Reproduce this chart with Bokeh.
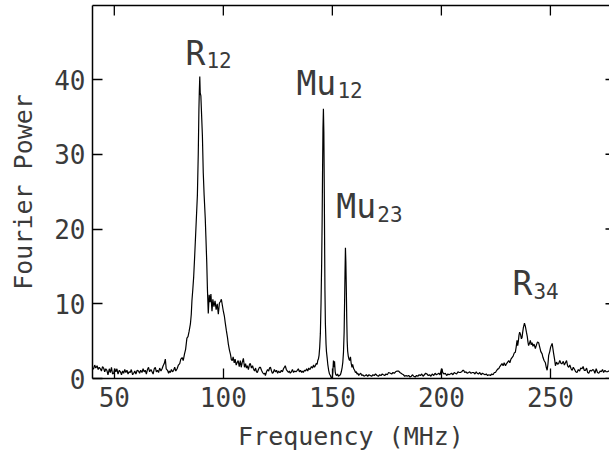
import math
from bokeh.plotting import figure
from bokeh.models import LinearAxis, FixedTicker, Range1d, ColumnDataSource
from bokeh.embed import file_html
from bokeh.resources import INLINE
from bokeh.core.properties import value

# ---- data ----
freq = [40.0, 40.5, 41.0, 41.5, 42.1, 42.6, 43.1, 43.6, 44.1, 44.6, 45.1, 45.6, 46.1, 46.6, 47.1, 47.7, 48.2, 48.7, 49.2, 49.7,
        50.2, 50.7, 51.2, 51.7, 52.3, 52.8, 53.3, 53.8, 54.3, 54.8, 55.3, 55.8, 56.3, 56.8, 57.3, 57.8, 58.4, 58.9, 59.4, 59.9,
        60.5, 61.1, 61.6, 62.1, 62.7, 63.2, 63.7, 64.2, 64.7, 65.2, 65.7, 66.2, 66.8, 67.3, 67.8, 68.3, 68.8, 69.3, 69.8, 70.3,
        70.8, 71.4, 71.9, 72.4, 72.9, 73.4, 73.8, 74.4, 74.9, 75.3, 75.7, 76.2, 76.7, 77.2, 77.7, 78.2, 78.8, 79.4, 80.0, 80.5,
        81.1, 81.6, 82.2, 82.7, 83.3, 83.8, 84.3, 84.9, 85.3, 85.6, 86.0, 86.4, 86.8, 87.2, 87.6, 88.1, 88.5, 88.8, 89.0, 89.2,
        89.4, 89.7, 90.0, 90.4, 90.8, 91.2, 91.7, 92.0, 92.4, 92.7, 93.1, 93.5, 93.9, 94.3, 94.8, 95.2, 95.7, 96.2, 96.7, 97.2,
        97.7, 98.2, 98.7, 99.1, 99.6, 100.0, 100.5, 100.9, 101.4, 101.9, 102.3, 102.8, 103.3, 103.7, 104.1, 104.5, 105.0, 105.4,
        105.9, 106.3, 106.8, 107.3, 107.8, 108.2, 108.7, 109.2, 109.7, 110.2, 110.6, 111.0, 111.5, 112.0, 112.4, 112.9, 113.4,
        113.8, 114.3, 114.8, 115.2, 115.6, 116.1, 116.6, 117.0, 117.5, 118.0, 118.5, 119.0, 119.3, 119.8, 120.3, 120.8, 121.2,
        121.6, 122.1, 122.5, 122.9, 123.4, 123.9, 124.4, 124.9, 125.4, 125.8, 126.1, 126.6, 127.1, 127.6, 128.0, 128.4, 128.9,
        129.4, 129.9, 130.3, 130.7, 131.2, 131.7, 132.2, 132.7, 133.3, 133.9, 134.4, 134.9, 135.4, 135.9, 136.3, 136.7, 137.2,
        137.7, 138.2, 138.7, 139.2, 139.6, 139.9, 140.4, 140.9, 141.4, 141.8, 142.2, 142.6, 143.0, 143.3, 143.6, 143.9, 144.2,
        144.5, 144.8, 145.1, 145.3, 145.5, 145.7, 145.9, 146.1, 146.3, 146.5, 146.6, 146.8, 147.1, 147.3, 147.6, 147.9, 148.3,
        148.7, 149.1, 149.5, 149.9, 150.2, 150.5, 150.8, 151.0, 151.3, 151.6, 152.0, 152.4, 152.8, 153.2, 153.7, 154.1, 154.5,
        154.8, 155.1, 155.4, 155.6, 155.8, 156.0, 156.2, 156.4, 156.6, 156.8, 157.0, 157.3, 157.6, 157.9, 158.3, 158.6, 159.0,
        159.3, 159.8, 160.2, 160.6, 161.0, 161.3, 161.7, 162.1, 162.6, 163.0, 163.5, 164.0, 164.5, 165.1, 165.6, 166.2, 166.8,
        167.4, 168.0, 168.6, 169.2, 169.8, 170.5, 171.1, 171.7, 172.3, 172.9, 173.4, 174.0, 174.6, 175.2, 175.8, 176.6, 177.2,
        177.8, 178.4, 179.0, 179.7, 180.4, 181.0, 181.5, 182.0, 182.6, 183.2, 183.8, 184.3, 185.0, 185.6, 186.2, 186.8, 187.3,
        188.0, 188.6, 189.2, 189.8, 190.4, 191.0, 191.6, 192.2, 192.8, 193.4, 194.0, 194.6, 195.2, 195.8, 196.5, 197.1, 197.7,
        198.3, 198.8, 199.4, 200.0, 200.3, 200.6, 201.2, 201.8, 202.4, 203.0, 203.5, 204.1, 204.7, 205.3, 205.9, 206.4, 207.0,
        207.6, 208.2, 208.7, 209.3, 209.8, 210.2, 210.7, 211.3, 211.9, 212.5, 213.0, 213.6, 214.2, 214.8, 215.4, 216.0, 216.4,
        217.0, 217.6, 218.2, 218.8, 219.4, 220.0, 220.6, 221.2, 221.8, 222.5, 223.1, 223.7, 224.3, 224.8, 225.4, 225.9, 226.3,
        226.8, 227.3, 227.8, 228.3, 228.8, 229.4, 229.9, 230.4, 230.9, 231.4, 231.9, 232.4, 232.9, 233.4, 233.9, 234.3, 234.7,
        235.0, 235.3, 235.6, 235.9, 236.3, 236.7, 237.0, 237.3, 237.6, 238.1, 238.5, 239.0, 239.4, 239.7, 240.0, 240.4, 240.8,
        241.2, 241.6, 242.0, 242.5, 243.1, 243.6, 244.1, 244.6, 245.1, 245.6, 246.2, 246.6, 247.1, 247.7, 248.1, 248.5, 248.9,
        249.2, 249.7, 250.1, 250.8, 251.2, 251.5, 251.9, 252.3, 252.8, 253.3, 253.8, 254.3, 254.9, 255.4, 255.9, 256.4, 256.9,
        257.4, 257.9, 258.4, 258.9, 259.5, 260.0, 260.5, 261.1, 261.6, 262.2, 262.8, 263.4, 263.9, 264.5, 265.0, 265.5, 266.1,
        266.6, 267.1, 267.6, 268.2, 268.8, 269.4, 269.9, 270.4, 271.0, 271.6, 272.2, 272.8, 273.3, 273.9, 274.4, 275.0, 275.6,
        276.2, 276.7, 277.0]
power = [1.3, 1.3, 1.8, 1.4, 1.7, 1.2, 1.5, 1.3, 1.0, 1.6, 1.4, 0.9, 1.3, 1.1, 0.5, 1.3, 0.8, 1.5, 0.6, 0.7,
         1.3, 0.9, 1.3, 0.6, 1.1, 0.9, 0.5, 1.0, 0.7, 1.2, 0.8, 1.1, 0.6, 0.9, 0.8, 1.2, 0.5, 0.7, 1.0, 0.6,
         1.1, 1.0, 0.7, 1.1, 0.8, 1.3, 0.9, 1.1, 0.6, 1.2, 1.5, 0.9, 1.2, 0.9, 0.6, 1.3, 1.5, 0.9, 1.1, 0.8,
         1.4, 1.0, 1.3, 1.7, 2.0, 2.6, 1.3, 1.1, 0.7, 1.0, 0.8, 1.2, 0.9, 1.1, 1.5, 1.0, 1.3, 1.8, 2.0, 2.6,
         2.8, 2.4, 3.3, 3.9, 5.4, 5.6, 6.3, 7.3, 8.6, 10.4, 11.9, 13.6, 16.0, 18.6, 21.2, 24.5, 30.0, 36.0, 38.5, 40.4,
         38.2, 37.8, 35.5, 32.5, 27.5, 24.5, 21.5, 19.0, 15.5, 12.0, 8.7, 11.2, 10.2, 11.3, 9.0, 10.6, 9.6, 10.4, 9.2, 10.0,
         8.6, 10.1, 10.3, 10.6, 9.7, 9.0, 8.3, 7.4, 6.4, 5.5, 4.6, 3.8, 3.2, 2.5, 2.4, 2.9, 2.1, 2.6,
         1.8, 2.1, 2.4, 1.6, 2.4, 1.5, 2.2, 2.7, 1.5, 2.0, 1.4, 1.7, 1.2, 1.9, 2.0, 1.4, 1.7,
         1.3, 1.0, 1.4, 0.9, 0.8, 1.2, 1.5, 1.5, 1.1, 0.8, 0.6, 0.7, 0.4, 0.9, 1.2, 1.0, 1.4,
         1.5, 1.0, 0.7, 0.8, 1.2, 0.9, 1.1, 0.7, 1.0, 0.8, 0.8, 1.1, 0.9, 1.3, 1.5, 1.7, 1.2,
         1.0, 0.8, 1.0, 0.7, 0.9, 1.2, 0.8, 1.0, 0.9, 1.1, 1.3, 0.9, 1.1, 0.8, 1.0, 0.8, 1.1,
         1.0, 1.3, 1.0, 1.4, 1.2, 1.3, 1.6, 1.4, 1.8, 1.5, 1.7, 2.0, 1.9, 2.4, 2.6, 3.1, 4.2,
         6.0, 10.0, 15.5, 20.7, 27.5, 33.5, 36.1, 33.0, 25.2, 16.0, 11.8, 7.4, 4.6, 3.6, 2.8, 1.9, 1.1,
         0.6, 0.4, 0.1, 0.0, 0.8, 2.4, 1.5, 2.3, 0.9, 0.5, 0.4, 0.6, 0.3, 0.4, 0.5, 0.9, 1.5,
         2.2, 3.5, 6.2, 10.0, 14.0, 17.5, 15.5, 12.0, 8.0, 5.0, 3.7, 3.0, 2.6, 2.4, 2.9, 2.1, 1.5,
         1.9, 1.3, 1.1, 0.8, 0.9, 0.6, 0.7, 0.4, 0.6, 0.7, 0.4, 0.5, 0.3, 0.4, 0.5, 0.3, 0.5,
         0.4, 0.3, 0.5, 0.4, 0.6, 0.4, 0.3, 0.5, 0.4, 0.6, 0.5, 0.4, 0.6, 0.5, 0.8, 0.7, 0.6,
         0.8, 0.7, 0.9, 1.0, 1.0, 0.8, 0.7, 0.6, 0.5, 0.3, 0.4, 0.3, 0.4, 0.2, 0.3, 0.5, 0.3,
         0.2, 0.4, 0.3, 0.5, 0.4, 0.6, 0.3, 0.5, 0.7, 0.6, 0.4, 0.5, 0.3, 0.6, 0.4, 0.7, 0.5,
         0.6, 0.7, 0.5, 1.2, 1.3, 0.8, 0.6, 0.7, 0.4, 0.6, 0.5, 0.6, 0.7, 0.5, 0.8, 0.7, 0.6,
         0.9, 0.8, 0.8, 0.9, 1.1, 1.1, 0.8, 0.9, 0.7, 0.8, 0.9, 0.7, 0.8, 0.8, 0.6, 0.9, 0.7,
         0.6, 0.8, 0.5, 0.7, 0.6, 0.5, 0.6, 0.4, 0.5, 0.4, 0.6, 0.5, 0.8, 0.8, 1.1, 1.3, 1.3,
         1.6, 1.8, 2.0, 1.7, 2.1, 1.7, 2.0, 2.2, 2.4, 2.1, 2.6, 2.8, 3.0, 3.4, 3.5, 4.2, 5.1,
         4.4, 5.0, 5.8, 6.2, 5.9, 5.3, 5.5, 6.2, 6.8, 7.4, 7.0, 6.2, 5.6, 4.9, 4.4, 4.7, 5.1,
         4.5, 4.8, 4.3, 4.6, 4.0, 4.5, 4.9, 4.8, 4.2, 3.6, 3.3, 2.8, 2.4, 2.1, 1.5, 1.1, 2.0,
         3.1, 3.6, 4.2, 4.7, 3.9, 3.3, 2.6, 1.7, 2.2, 1.9, 2.0, 2.4, 2.0, 2.0, 2.3, 1.8, 2.1,
         2.4, 1.7, 1.5, 1.8, 1.3, 1.1, 1.5, 1.2, 0.9, 0.8, 1.2, 1.0, 1.4, 1.3, 1.6, 1.1, 1.1,
         1.4, 0.8, 0.7, 1.1, 1.0, 1.2, 1.1, 0.7, 1.3, 0.8, 0.7, 1.0, 0.9, 1.2, 0.8, 1.1, 0.9,
         0.9, 1.0, 1.0]

x_ticks = [50, 100, 150, 200, 250]
y_ticks = [0, 10, 20, 30, 40]

peak_names = ["R", "Mu", "Mu", "R"]
peak_subs = ["12", "12", "23", "34"]
label_freq = [82.6, 133.5, 151.8, 232.6]
label_power = [43.5, 39.5, 23.0, 12.7]
sub_shift = [21, 41, 41, 21]

X_RANGE = (40, 277.1)
Y_RANGE = (0, 49.9)

FONT = "DejaVu Sans Mono"
TXT = "#3a3a3a"

p = figure(width=609, height=460, output_backend="svg", toolbar_location=None,
           x_range=Range1d(*X_RANGE), y_range=Range1d(*Y_RANGE),
           x_axis_location=None, y_axis_location=None,
           min_border_left=92, min_border_right=0, min_border_top=5, min_border_bottom=82)
p.grid.visible = False
p.outline_line_color = None
p.background_fill_color = "white"
p.border_fill_color = "white"


def make_axis(ticks, label=None):
    ax = LinearAxis(ticker=FixedTicker(ticks=ticks))
    ax.major_tick_in = 10
    ax.major_tick_out = 0
    ax.minor_tick_in = 0
    ax.minor_tick_out = 0
    ax.major_tick_line_color = "black"
    ax.major_tick_line_width = 1.3
    ax.axis_line_color = "black"
    ax.axis_line_width = 1.5
    ax.major_label_text_font = FONT
    ax.major_label_text_font_size = "26px"
    ax.major_label_text_color = TXT
    if label:
        ax.axis_label = label
        ax.axis_label_text_font = FONT
        ax.axis_label_text_font_size = "25px"
        ax.axis_label_text_font_style = "normal"
        ax.axis_label_text_color = TXT
    return ax


bottom = make_axis(x_ticks, label="Frequency (MHz)")
bottom.major_label_standoff = 8
bottom.axis_label_standoff = 12
left = make_axis(y_ticks, label="Fourier Power")
left.major_label_standoff = 7
left.axis_label_standoff = 13
p.add_layout(bottom, "below")
p.add_layout(left, "left")

# top frame line (an axis without ticks or labels)
top = LinearAxis(ticker=FixedTicker(ticks=[]))
top.axis_line_color = "black"
top.axis_line_width = 1.5
top.major_tick_in = 0
top.major_tick_out = 0
top.minor_tick_in = 0
top.minor_tick_out = 0
top.major_label_standoff = 0
p.add_layout(top, "above")

# inward tick marks on top and right edges
p.ray(x=x_ticks, y=[Y_RANGE[1]] * len(x_ticks), length=10, length_units="screen",
      angle=-math.pi / 2, line_color="black", line_width=1.3)
p.ray(x=[X_RANGE[1]] * len(y_ticks), y=y_ticks, length=4, length_units="screen",
      angle=math.pi, line_color="black", line_width=1.3)

p.line(freq, power, line_color="black", line_width=1.2)

src = ColumnDataSource(dict(x=label_freq, y=label_power, name=peak_names, sub=peak_subs, dx=sub_shift))
p.text(x="x", y="y", text="name", source=src, text_font=value(FONT), text_font_size="33px",
       text_color=TXT, text_align="left", text_baseline="alphabetic")
p.text(x="x", y="y", text="sub", source=src, x_offset="dx", y_offset=7, text_font=value(FONT),
       text_font_size="21px", text_color=TXT, text_align="left", text_baseline="alphabetic")

open("out.html", "w").write(file_html(p, INLINE))
